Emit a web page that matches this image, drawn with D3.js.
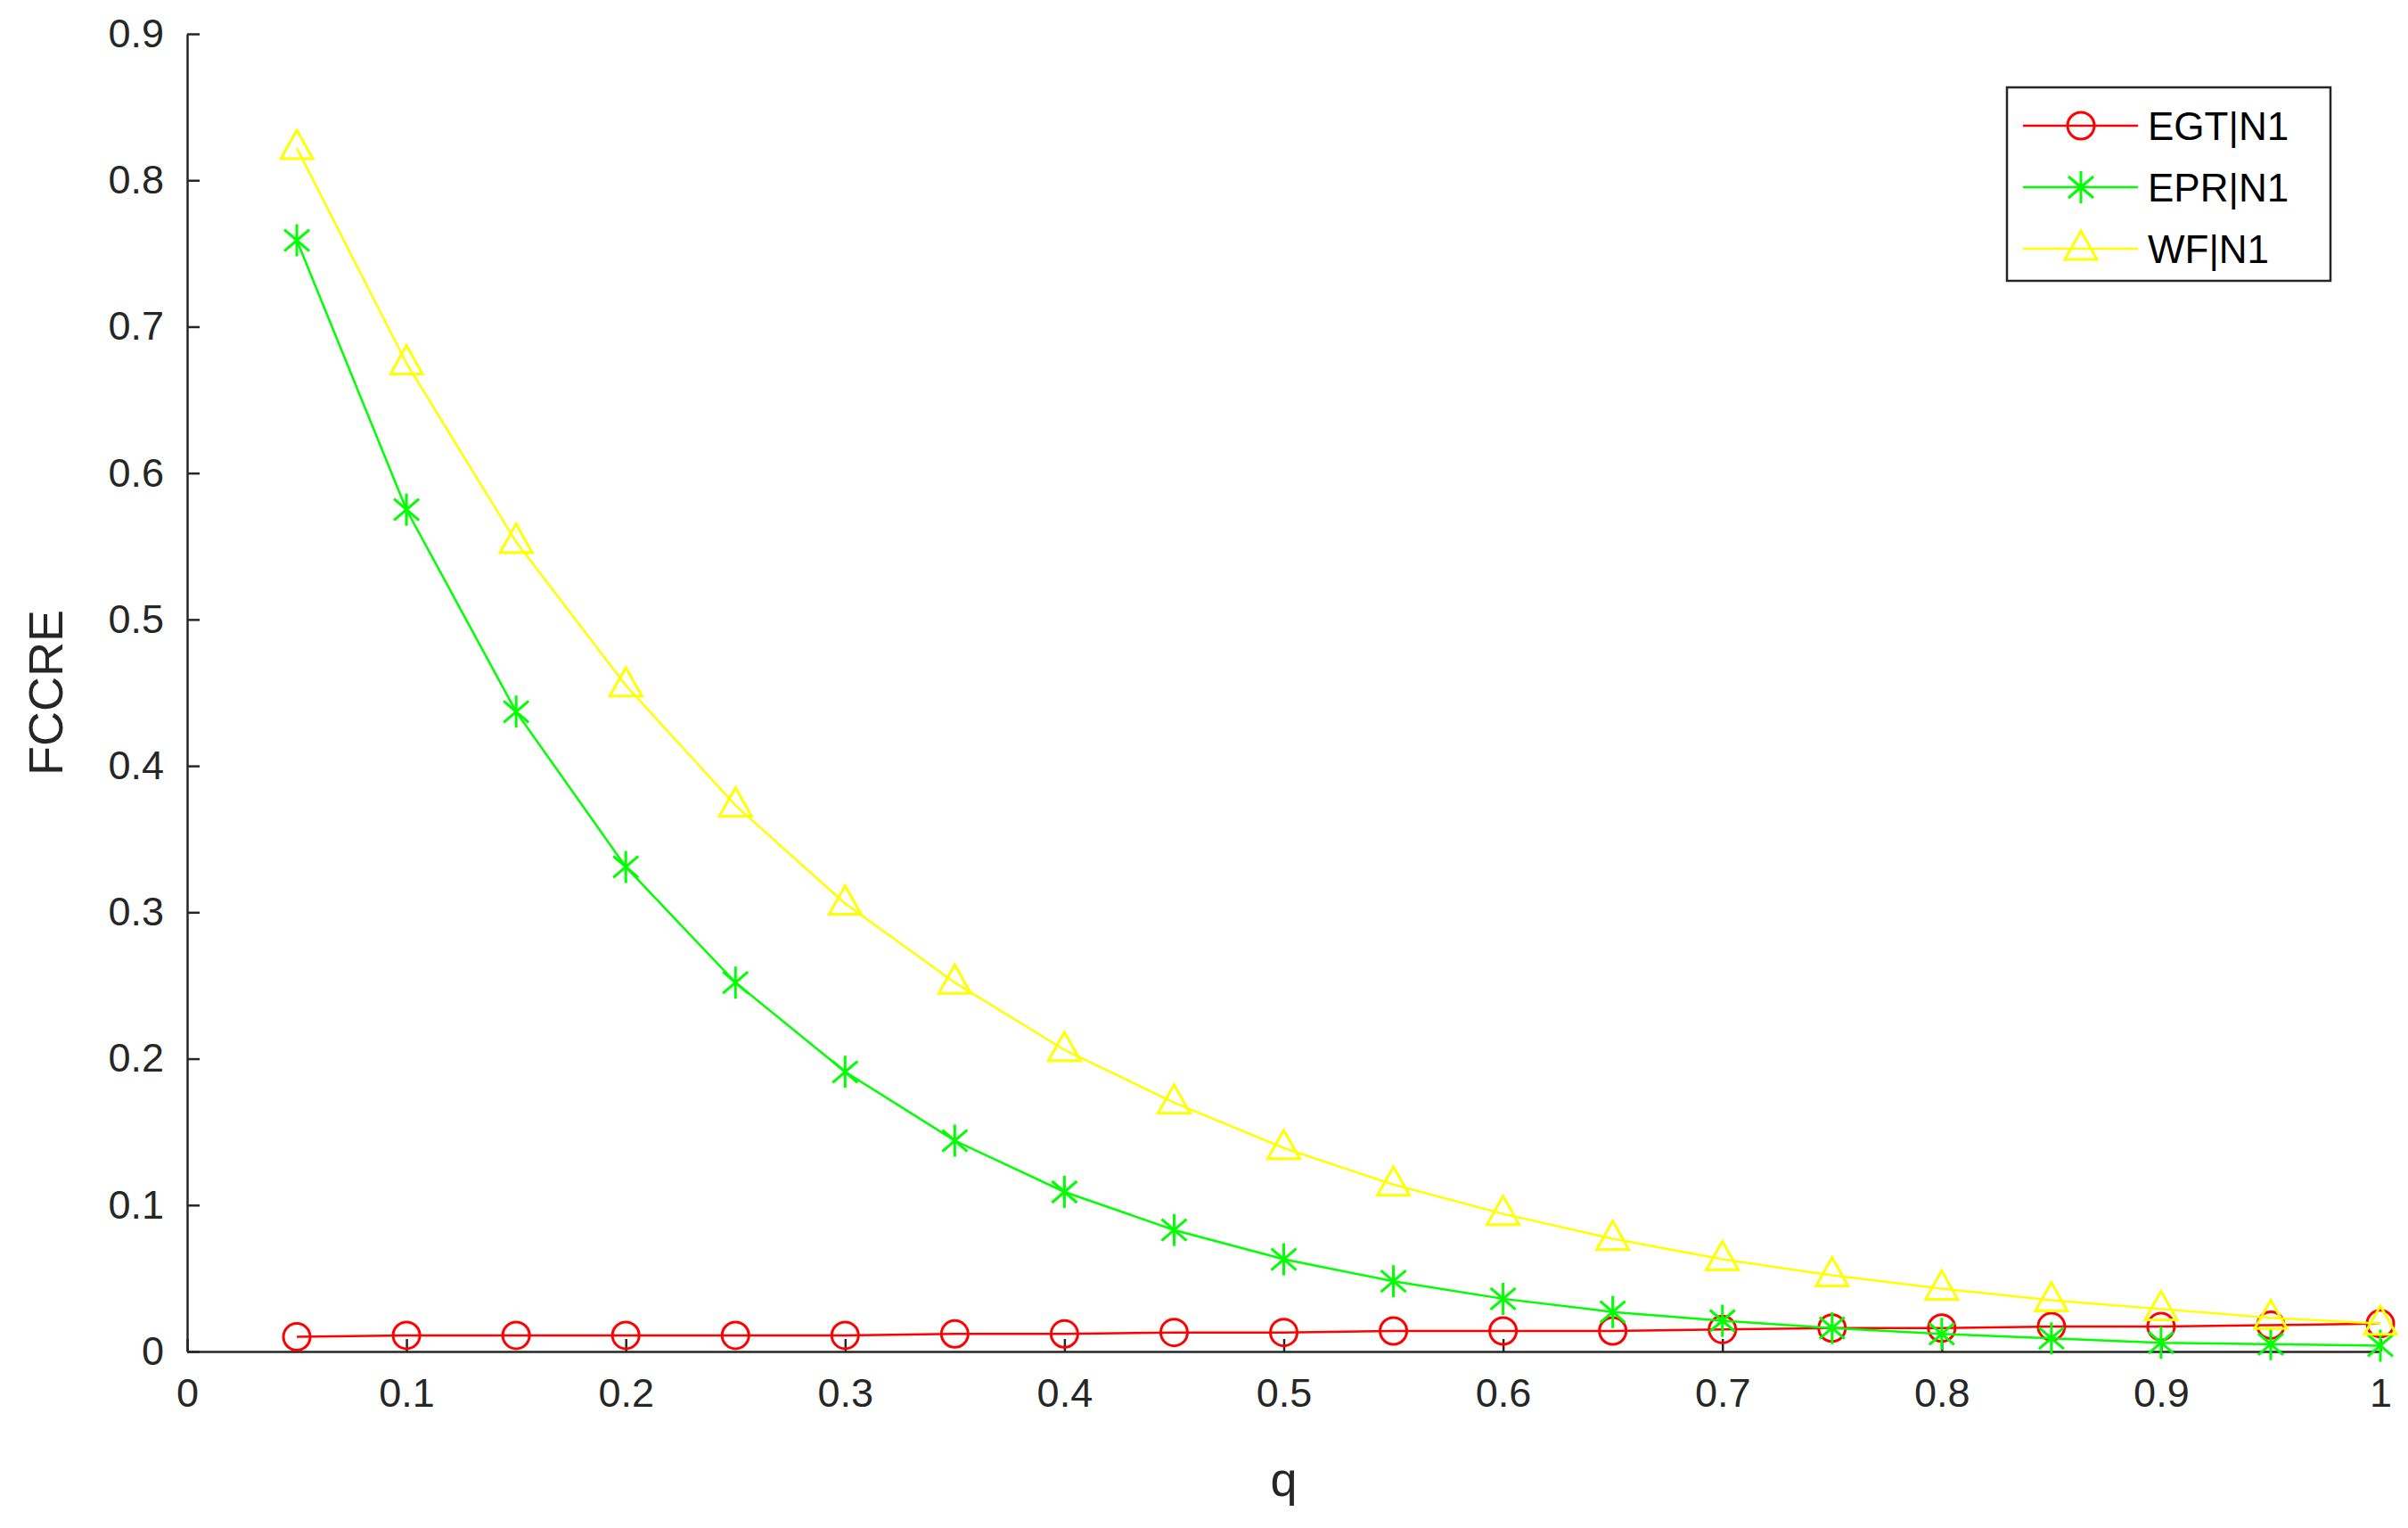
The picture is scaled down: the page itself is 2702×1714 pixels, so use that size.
<!DOCTYPE html>
<html><head><meta charset="utf-8">
<script src="https://cdn.jsdelivr.net/npm/d3@7"></script>
<style>body{margin:0;background:#fff}text{font-family:Arial,"Liberation Sans",sans-serif}</style>
</head><body><div id="chart"></div>
<script>
const qValues = [0.05,0.1,0.15,0.2,0.25,0.3,0.35,0.4,0.45,0.5,0.55,0.6,0.65,0.7,0.75,0.8,0.85,0.9,0.95,1];
const egt = [0.010,0.011,0.011,0.011,0.011,0.011,0.012,0.012,0.013,0.013,0.014,0.014,0.014,0.015,0.016,0.016,0.017,0.017,0.018,0.019];
const epr = [0.759,0.575,0.437,0.331,0.252,0.191,0.144,0.109,0.083,0.063,0.048,0.036,0.027,0.021,0.016,0.012,0.009,0.006,0.005,0.004];
const wf = [0.822,0.675,0.553,0.455,0.373,0.306,0.252,0.206,0.170,0.139,0.114,0.094,0.077,0.063,0.052,0.043,0.035,0.029,0.023,0.019];
const xTicks = [0,0.1,0.2,0.3,0.4,0.5,0.6,0.7,0.8,0.9,1];
const yTicks = [0,0.1,0.2,0.3,0.4,0.5,0.6,0.7,0.8,0.9];
const series = [
  {name:'EGT|N1', color:'#ff0000', marker:'circle', values:egt},
  {name:'EPR|N1', color:'#00ff00', marker:'star', values:epr},
  {name:'WF|N1', color:'#ffff00', marker:'triangle', values:wf}
];

const W = 2702, H = 1714;
const margin = {top:38, right:31, bottom:198, left:210};
const w = W - margin.left - margin.right, h = H - margin.top - margin.bottom;

const svg = d3.select('#chart').append('svg').attr('width', W).attr('height', H);
const g = svg.append('g').attr('transform', `translate(${margin.left},${margin.top})`);

const x = d3.scaleLinear().domain([0,1]).range([0,w]);
const y = d3.scaleLinear().domain([0,0.9]).range([h,0]);

const xAxis = g.append('g').attr('transform', `translate(0,${h})`)
  .call(d3.axisBottom(x).tickValues(xTicks).tickFormat(d => String(d)).tickSizeInner(-14).tickSizeOuter(0).tickPadding(30));
const yAxis = g.append('g')
  .call(d3.axisLeft(y).tickValues(yTicks).tickFormat(d => String(d)).tickSizeInner(-14).tickSizeOuter(0).tickPadding(26));
[xAxis, yAxis].forEach(a => {
  a.selectAll('path,line').attr('stroke','#262626').attr('stroke-width',2.5);
  a.selectAll('text').attr('font-size',45).attr('fill','#262626');
});

g.append('text').attr('x', w/2).attr('y', h + 162).attr('text-anchor','middle')
  .attr('font-size',54).attr('fill','#262626').text('q');
g.append('text').attr('transform', `translate(${-140},${h/2}) rotate(-90)`).attr('text-anchor','middle')
  .attr('font-size',54).attr('fill','#262626').text('FCCRE');

function drawMarker(sel, type, color) {
  if (type === 'circle') {
    sel.append('circle').attr('r',15).attr('fill','none').attr('stroke',color).attr('stroke-width',3);
  } else if (type === 'triangle') {
    sel.append('path').attr('d','M0,-20L18,12L-18,12Z').attr('fill','none').attr('stroke',color).attr('stroke-width',3);
  } else {
    sel.append('path').attr('d','M0,-18V18M-14,-12L14,12M-14,12L14,-12').attr('stroke',color).attr('stroke-width',3);
  }
}

const line = d3.line().x((d,i) => x(qValues[i])).y(d => y(d));
series.forEach(s => {
  g.append('path').datum(s.values).attr('d', line).attr('fill','none').attr('stroke', s.color).attr('stroke-width',2.5);
  g.selectAll(null).data(s.values).enter().append('g')
    .attr('transform', (d,i) => `translate(${x(qValues[i])},${y(d)})`)
    .each(function(){ drawMarker(d3.select(this), s.marker, s.color); });
});

// legend
const lg = svg.append('g').attr('transform','translate(2252,98)');
lg.append('rect').attr('width',363).attr('height',217).attr('fill','#fff').attr('stroke','#262626').attr('stroke-width',2.5);
series.forEach((s,i) => {
  const row = lg.append('g').attr('transform', `translate(0,${43 + i*69})`);
  row.append('line').attr('x1',18).attr('x2',147).attr('stroke',s.color).attr('stroke-width',2.5);
  drawMarker(row.append('g').attr('transform','translate(83,0)'), s.marker, s.color);
  row.append('text').attr('x',158).attr('y',16).attr('font-size',44).attr('fill','#000').text(s.name);
});
</script></body></html>
